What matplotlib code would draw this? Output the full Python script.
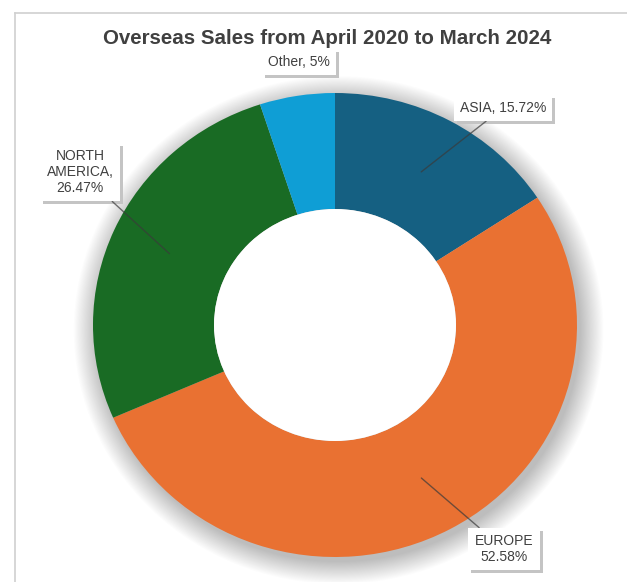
import numpy as np
import matplotlib.pyplot as plt
from matplotlib.patches import Ellipse, Rectangle
from matplotlib.lines import Line2D

# data
regions = ['ASIA', 'EUROPE', 'NORTH AMERICA', 'Other']
shares = [15.72, 52.58, 26.47, 5]
colores = ['#156082', '#E97132', '#196B24', '#0F9ED5']
etiquetas = ['ASIA, 15.72%', 'EUROPE\n52.58%', 'NORTH\nAMERICA,\n26.47%', 'Other, 5%']

# posiciones de las etiquetas (pixeles de la imagen)
pos_etiquetas = [(503, 108), (504, 549), (80, 172), (299, 62)]
con_linea = [True, True, True, False]

W, H = 627, 582
def fig_xy(px, py):
	return px / W, 1 - py / H

fig = plt.figure(figsize=(W / 100, H / 100), dpi=100)

# marco (solo se ven arriba e izquierda)
fig.lines.append(Line2D([15.5 / W, 1.0], [1 - 13 / H, 1 - 13 / H], transform=fig.transFigure,
                        color='#d0d0d0', linewidth=1.2))
fig.lines.append(Line2D([15.5 / W, 15.5 / W], [0, 1 - 13 / H], transform=fig.transFigure,
                        color='#d0d0d0', linewidth=1.2))

cx, cy, rx, ry = 335, 325, 242, 232
ax = fig.add_axes([(cx - rx) / W, (H - cy - ry) / H, 2 * rx / W, 2 * ry / H])

# sombra suave
for i in range(22):
	r = 1.0 + 0.0045 * i
	ax.add_patch(Ellipse((0.015, -0.022), 2 * r, 2 * r, facecolor='black',
	                     edgecolor='none', alpha=0.01, zorder=0, clip_on=False))

wedges, _ = ax.pie(shares, colors=colores, startangle=90, counterclock=False,
                   radius=1.0, wedgeprops=dict(width=0.5, edgecolor='none'))
for w in wedges:
	w.set_zorder(2)
ax.add_patch(Ellipse((0, 0), 1.0, 1.0, facecolor='white', edgecolor='none', zorder=3))
ax.set_aspect('auto')
ax.set_xlim(-1, 1)
ax.set_ylim(-1, 1)
ax.axis('off')

fig.text(327 / W, 1 - 38 / H, 'Overseas Sales from April 2020 to March 2024',
         ha='center', va='center', fontsize=14.8, fontweight='bold',
         color='#404040', family=['Liberation Sans', 'DejaVu Sans'])

fuente = ['Liberation Sans', 'DejaVu Sans']
textos = []
for w, txt, (px, py), linea in zip(wedges, etiquetas, pos_etiquetas, con_linea):
	fx, fy = fig_xy(px, py)
	if linea:
		ang = np.deg2rad((w.theta1 + w.theta2) / 2)
		t = ax.annotate(txt, xy=(0.75 * np.cos(ang), 0.75 * np.sin(ang)), xycoords='data',
		                xytext=(fx, fy), textcoords='figure fraction', ha='center', va='center',
		                fontsize=10, color='#404040', family=fuente, linespacing=1.2,
		                bbox=dict(boxstyle='square,pad=0.45', facecolor='white', edgecolor='none'),
		                arrowprops=dict(arrowstyle='-', color='#3a3a3a', lw=1.0, alpha=0.7,
		                                shrinkA=0, shrinkB=0), zorder=6, annotation_clip=False)
	else:
		t = ax.text(fx, fy, txt, transform=fig.transFigure, ha='center', va='center', fontsize=10,
		            color='#404040', family=fuente, linespacing=1.2, zorder=6, clip_on=False,
		            bbox=dict(boxstyle='square,pad=0.45', facecolor='white', edgecolor='none'))
	textos.append(t)

# sombra de las cajas de etiqueta
fig.canvas.draw()
for t in textos:
	bb = t.get_bbox_patch().get_window_extent()
	ax.add_patch(Rectangle((bb.x0 + 3, bb.y0 - 3), bb.width, bb.height, transform=None,
	                       facecolor='#c4c4c4', edgecolor='none', zorder=5, clip_on=False))

plt.savefig('out.png', dpi=100)
